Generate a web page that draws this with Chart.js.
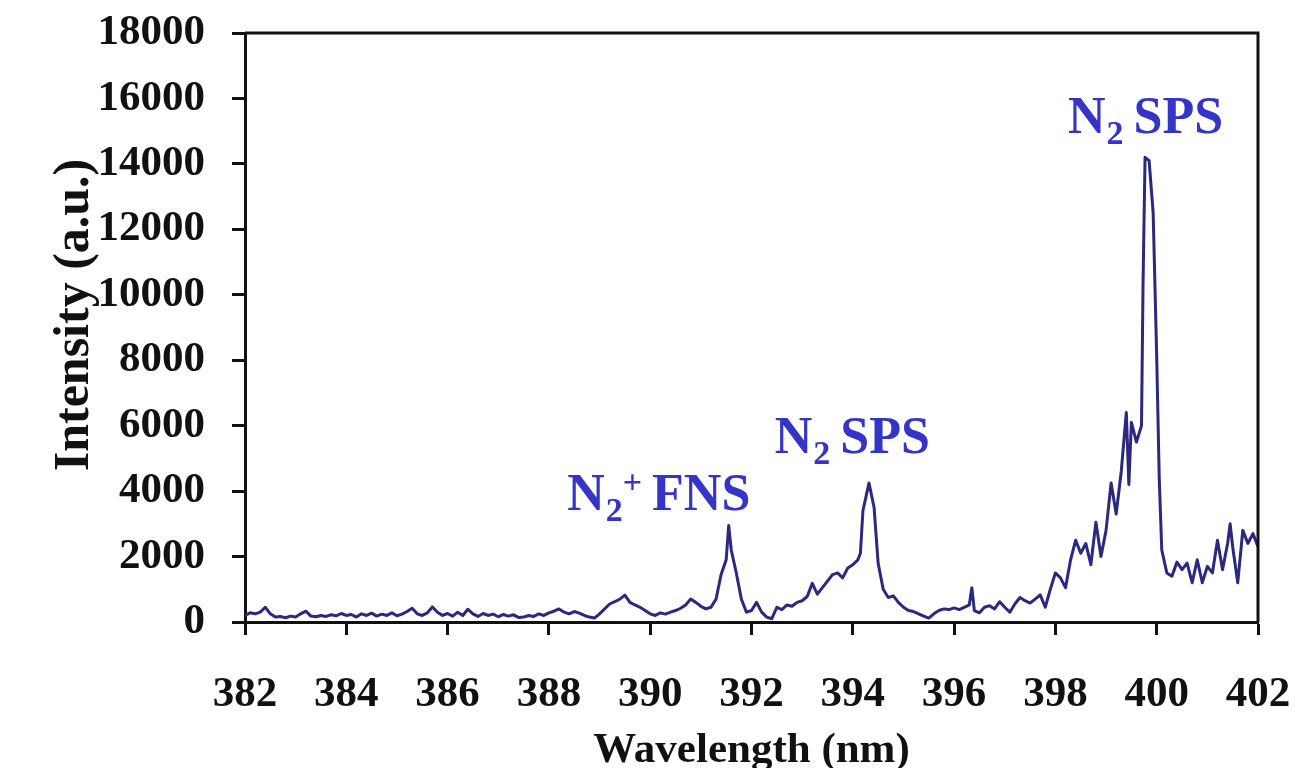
<!DOCTYPE html>
<html>
<head>
<meta charset="utf-8">
<script src="https://cdn.jsdelivr.net/npm/chart.js@4.4.1/dist/chart.umd.min.js"></script>
<style>
  html, body { margin: 0; padding: 0; background: #fff; }
  #wrap { width: 1295px; height: 768px; }
</style>
</head>
<body>
<div id="wrap"><canvas id="spectrum" width="1295" height="768"></canvas></div>
<script>
// Emission spectrum (wavelength in nm, intensity in a.u.)
const wavelength = [
    382.0, 382.1, 382.2, 382.3, 382.4, 382.5, 382.6, 382.7, 382.8, 382.9,
    383.0, 383.1, 383.2, 383.3, 383.4, 383.5, 383.6, 383.7, 383.8, 383.9,
    384.0, 384.1, 384.2, 384.3, 384.4, 384.5, 384.6, 384.7, 384.8, 384.9,
    385.0, 385.1, 385.2, 385.3, 385.4, 385.5, 385.6, 385.7, 385.8, 385.9,
    386.0, 386.1, 386.2, 386.3, 386.4, 386.5, 386.6, 386.7, 386.8, 386.9,
    387.0, 387.1, 387.2, 387.3, 387.4, 387.5, 387.6, 387.7, 387.8, 387.9,
    388.0, 388.1, 388.2, 388.3, 388.4, 388.5, 388.6, 388.7, 388.8, 388.9,
    389.0, 389.1, 389.2, 389.3, 389.4, 389.5, 389.6, 389.7, 389.8, 389.9,
    390.0, 390.1, 390.2, 390.3, 390.4, 390.5, 390.6, 390.7, 390.8, 390.9,
    391.0, 391.1, 391.2, 391.3, 391.4, 391.5, 391.55, 391.6, 391.7, 391.8, 391.9,
    392.0, 392.1, 392.2, 392.3, 392.4, 392.5, 392.6, 392.7, 392.8, 392.9,
    393.0, 393.1, 393.2, 393.3, 393.4, 393.5, 393.6, 393.7, 393.8, 393.9,
    394.0, 394.1, 394.15, 394.2, 394.32, 394.42, 394.5, 394.6, 394.7, 394.8, 394.9,
    395.0, 395.1, 395.2, 395.3, 395.4, 395.5, 395.6, 395.7, 395.8, 395.9,
    396.0, 396.1, 396.2, 396.3, 396.35, 396.4, 396.5, 396.6, 396.7, 396.8, 396.9,
    397.0, 397.1, 397.2, 397.3, 397.4, 397.5, 397.6, 397.7, 397.8, 397.9,
    398.0, 398.1, 398.2, 398.3, 398.4, 398.5, 398.6, 398.7, 398.8, 398.9,
    399.0, 399.1, 399.2, 399.3, 399.4, 399.45, 399.5, 399.6, 399.7, 399.73, 399.77, 399.85, 399.93,
    400.0, 400.05, 400.1, 400.2, 400.3, 400.4, 400.5, 400.6, 400.7, 400.8, 400.9,
    401.0, 401.1, 401.2, 401.3, 401.4, 401.45, 401.5, 401.6, 401.7, 401.8, 401.9,
    402.0
];

const intensity = [
    200, 280, 250, 300, 450, 250, 150, 170, 130, 180,
    150, 250, 330, 180, 160, 200, 170, 220, 190, 260,
    200, 230, 150, 250, 200, 270, 180, 240, 200, 280,
    190, 240, 320, 420, 250, 200, 280, 460, 300, 200,
    260, 180, 300, 200, 390, 250, 170, 260, 200, 240,
    160, 230, 180, 220, 140, 150, 200, 170, 250, 200,
    280, 330, 400, 300, 250, 320, 270, 200, 150, 120,
    250, 400, 550, 620, 700, 820, 600, 520, 450, 350,
    250, 200, 280, 240, 300, 350, 420, 520, 700, 600,
    480, 400, 450, 700, 1450, 1900, 2950, 2200, 1500, 700, 300,
    350, 600, 300, 150, 100, 450, 380, 520, 480, 600,
    650, 780, 1180, 850, 1050, 1250, 1450, 1500, 1350, 1650,
    1750, 1900, 2100, 3400, 4250, 3500, 1800, 1000, 750, 800, 600,
    450, 350, 320, 250, 180, 120, 250, 350, 400, 380,
    430, 380, 450, 520, 1050, 350, 280, 450, 500, 400, 620,
    450, 300, 550, 750, 650, 580, 700, 830, 450, 1000,
    1500, 1350, 1050, 1900, 2500, 2100, 2400, 1750, 3050, 2000,
    2800, 4250, 3300, 4600, 6400, 4200, 6100, 5500, 6000, 10300, 14200, 14100, 12500,
    8100, 4400, 2200, 1500, 1400, 1830, 1600, 1800, 1200, 1900, 1200,
    1700, 1500, 2500, 1600, 2400, 3000, 2300, 1200, 2800, 2400, 2700,
    2300
];

const xTickValues = [382, 384, 386, 388, 390, 392, 394, 396, 398, 400, 402];
const yTickValues = [0, 2000, 4000, 6000, 8000, 10000, 12000, 14000, 16000, 18000];

// Band labels, anchored in data units (left edge / baseline)
const bandLabels = [
    { sub: '2', sup: '+', text: 'FNS', at: [388.36, 3420] },
    { sub: '2', sup: '',  text: 'SPS', at: [392.46, 5160] },
    { sub: '2', sup: '',  text: 'SPS', at: [398.25, 14950] }
];

const SERIF = "'Liberation Serif', 'Times New Roman', serif";
const INK = '#111111';
const LINE_COLOR = '#2b2880';
const LABEL_COLOR = '#3434c8';

// Closes the plot frame (top and right sides)
const frameBox = {
    id: 'frameBox',
    afterDraw(chart) {
        const { ctx, chartArea: a } = chart;
        ctx.save();
        ctx.strokeStyle = INK;
        ctx.lineWidth = 3;
        ctx.beginPath();
        ctx.moveTo(a.left, a.top);
        ctx.lineTo(a.right, a.top);
        ctx.lineTo(a.right, a.bottom);
        ctx.stroke();
        ctx.restore();
    }
};

// Draws "N2 SPS" style labels with subscript/superscript
const bandText = {
    id: 'bandText',
    afterDatasetsDraw(chart) {
        const { ctx, scales } = chart;
        ctx.save();
        ctx.fillStyle = LABEL_COLOR;
        ctx.textBaseline = 'alphabetic';
        ctx.textAlign = 'left';
        bandLabels.forEach(lbl => {
            let x = scales.x.getPixelForValue(lbl.at[0]);
            const y = scales.y.getPixelForValue(lbl.at[1]);
            ctx.font = `bold 52px ${SERIF}`;
            ctx.fillText('N', x, y);
            x += ctx.measureText('N').width + 1;
            ctx.font = `bold 34px ${SERIF}`;
            ctx.fillText(lbl.sub, x, y + 11);
            let w = ctx.measureText(lbl.sub).width;
            if (lbl.sup) {
                ctx.fillText(lbl.sup, x + w, y - 17);
                w += ctx.measureText(lbl.sup).width;
            }
            x += w + 10;
            ctx.font = `bold 52px ${SERIF}`;
            ctx.fillText(lbl.text, x, y);
        });
        ctx.restore();
    }
};

// Fixed axis boxes; tick labels may overhang without shrinking the plot
const fixScale = size => s => {
    if (s.isHorizontal()) s.height = size; else s.width = size;
    s.paddingTop = 0;
    s.paddingBottom = 0;
    s.paddingLeft = 0;
    s.paddingRight = 0;
};

document.addEventListener('DOMContentLoaded', () => {
    const ctx = document.getElementById('spectrum').getContext('2d');

    new Chart(ctx, {
        type: 'line',
        data: {
            datasets: [{
                label: 'Intensity',
                data: wavelength.map((w, i) => ({ x: w, y: intensity[i] })),
                borderColor: LINE_COLOR,
                borderWidth: 3,
                borderJoinStyle: 'round',
                pointRadius: 0,
                tension: 0,
                fill: false
            }]
        },
        options: {
            responsive: false,
            animation: false,
            layout: { padding: { top: 33, right: 37, left: 0, bottom: 0 } },
            plugins: {
                legend: { display: false },
                tooltip: { enabled: false }
            },
            scales: {
                x: {
                    type: 'linear',
                    min: 382,
                    max: 402,
                    afterBuildTicks: s => { s.ticks = xTickValues.map(v => ({ value: v })); },
                    afterFit: fixScale(146),
                    border: { display: true, color: INK, width: 3 },
                    grid: { drawOnChartArea: false, drawTicks: true, tickLength: 13, tickWidth: 3, tickColor: INK },
                    ticks: {
                        color: INK,
                        padding: 34,
                        maxRotation: 0,
                        autoSkip: false,
                        font: { family: SERIF, size: 43, weight: 'bold' }
                    },
                    title: {
                        display: true,
                        text: 'Wavelength (nm)',
                        color: INK,
                        padding: { top: 0, bottom: -4 },
                        font: { family: SERIF, size: 43, weight: 'bold', lineHeight: 1 }
                    }
                },
                y: {
                    min: 0,
                    max: 18000,
                    afterBuildTicks: s => { s.ticks = yTickValues.map(v => ({ value: v })); },
                    afterFit: fixScale(245),
                    border: { display: true, color: INK, width: 3 },
                    grid: { drawOnChartArea: false, drawTicks: true, tickLength: 13, tickWidth: 3, tickColor: INK },
                    ticks: {
                        color: INK,
                        padding: 27,
                        font: { family: SERIF, size: 43, weight: 'bold' },
                        callback: v => String(v)
                    },
                    title: {
                        display: true,
                        text: '\u2002Intensity (a.u.)',
                        color: INK,
                        padding: { top: 50, bottom: 0 },
                        font: { family: SERIF, size: 50, weight: 'bold', lineHeight: 1 }
                    }
                }
            }
        },
        plugins: [frameBox, bandText]
    });
});
</script>
</body>
</html>
